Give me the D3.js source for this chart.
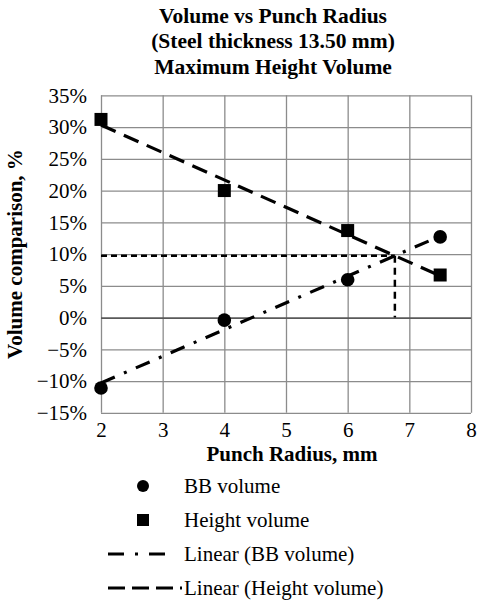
<!DOCTYPE html>
<html>
<head>
<meta charset="utf-8">
<script src="https://cdn.jsdelivr.net/npm/d3@7"></script>
<style>
  body { margin: 0; background: #fff; }
  svg { display: block; font-family: "Liberation Serif", "Times New Roman", serif; }
</style>
</head>
<body>
<svg id="chart" width="478" height="601"></svg>
<script>
// values
const radius = [2, 4, 6, 7.5];
const bbVolume = [-11.1, -0.4, 5.95, 12.7];
const heightVolume = [31.2, 20.0, 13.7, 6.7];
const xTicks = [2, 3, 4, 5, 6, 7, 8];
const yTicks = [-15, -10, -5, 0, 5, 10, 15, 20, 25, 30, 35];
const titleLines = ["Volume vs Punch Radius", "(Steel thickness 13.50 mm)", "Maximum Height Volume"];
const legendLabels = ["BB volume", "Height volume", "Linear (BB volume)", "Linear (Height volume)"];

const svg = d3.select("#chart");
const plotL = 101, plotR = 471, plotT = 95.3, plotB = 412.8;
const fs = 21;

const x = d3.scaleLinear().domain([2, 8]).range([plotL, plotR]);
const y = d3.scaleLinear().domain([-15, 35]).range([plotB, plotT]);

// least squares fit, like excel's linear trendline
function fit(xs, ys) {
  const mx = d3.mean(xs), my = d3.mean(ys);
  let sxy = 0, sxx = 0;
  xs.forEach((v, i) => { sxy += (v - mx) * (ys[i] - my); sxx += (v - mx) * (v - mx); });
  const slope = sxy / sxx;
  return { slope: slope, icpt: my - slope * mx };
}
const bbFit = fit(radius, bbVolume);
const hFit = fit(radius, heightVolume);
const crossX = (hFit.icpt - bbFit.icpt) / (bbFit.slope - hFit.slope);
const crossY = bbFit.icpt + bbFit.slope * crossX;

// title
svg.append("g").selectAll("text").data(titleLines).join("text")
  .attr("x", 273).attr("y", (d, i) => 23 + i * 25.3)
  .attr("text-anchor", "middle")
  .attr("font-size", 21.5).attr("font-weight", "bold")
  .text(d => d);

// grid
const gx = svg.append("g").attr("transform", `translate(0,${plotB})`)
  .call(d3.axisBottom(x).tickValues(xTicks).tickSize(-(plotB - plotT)).tickPadding(9).tickFormat(d3.format("d")));
gx.select(".domain").remove();
gx.selectAll("line").attr("stroke", "#8c8c8c").attr("stroke-width", 1.3);
gx.selectAll("text").attr("font-size", fs).attr("fill", "#000").attr("font-family", "Liberation Serif");

const gy = svg.append("g").attr("transform", `translate(${plotL},0)`)
  .call(d3.axisLeft(y).tickValues(yTicks).tickSize(-(plotR - plotL)).tickPadding(14)
    .tickFormat(d => (d < 0 ? "\u2212" + (-d) : d) + "%"));
gy.select(".domain").remove();
gy.selectAll("line").attr("stroke", d => d === 0 ? "#595959" : "#8c8c8c")
  .attr("stroke-width", d => d === 0 ? 1.8 : 1.3);
gy.selectAll("text").attr("font-size", fs).attr("fill", "#000").attr("font-family", "Liberation Serif");

// axis titles
svg.append("text").attr("x", 292).attr("y", 461)
  .attr("text-anchor", "middle").attr("font-size", fs).attr("font-weight", "bold")
  .text("Punch Radius, mm");
svg.append("text").attr("transform", `translate(22,${(plotT + plotB) / 2}) rotate(-90)`)
  .attr("text-anchor", "middle").attr("font-size", fs).attr("font-weight", "bold")
  .text("Volume comparison, %");

// intersection guides
const line = d3.line().x(d => x(d[0])).y(d => y(d[1]));
svg.append("path").attr("d", line([[2, crossY], [crossX, crossY]]))
  .attr("fill", "none").attr("stroke", "#000").attr("stroke-width", 2.5).attr("stroke-dasharray", "6,4");
svg.append("path").attr("d", line([[crossX, crossY], [crossX, 0]]))
  .attr("fill", "none").attr("stroke", "#000").attr("stroke-width", 2.5).attr("stroke-dasharray", "7,5");

// trendlines
const x0 = d3.min(radius), x1 = d3.max(radius);
svg.append("path")
  .attr("d", line([[x0, bbFit.icpt + bbFit.slope * x0], [x1, bbFit.icpt + bbFit.slope * x1]]))
  .attr("fill", "none").attr("stroke", "#000").attr("stroke-width", 3.2)
  .attr("stroke-dasharray", "15,10,3,10");
svg.append("path")
  .attr("d", line([[x0, hFit.icpt + hFit.slope * x0], [x1, hFit.icpt + hFit.slope * x1]]))
  .attr("fill", "none").attr("stroke", "#000").attr("stroke-width", 3.2)
  .attr("stroke-dasharray", "16,9");

// markers
svg.append("g").selectAll("circle").data(radius).join("circle")
  .attr("cx", d => x(d)).attr("cy", (d, i) => y(bbVolume[i])).attr("r", 6.8).attr("fill", "#000");
svg.append("g").selectAll("rect").data(radius).join("rect")
  .attr("x", d => x(d) - 6.5).attr("y", (d, i) => y(heightVolume[i]) - 6.5)
  .attr("width", 13).attr("height", 13).attr("fill", "#000");

// legend
const lg = svg.append("g");
const rowY = i => 486 + i * 34;
lg.selectAll("text").data(legendLabels).join("text")
  .attr("x", 184).attr("y", (d, i) => rowY(i) + 7)
  .attr("font-size", fs).text(d => d);
lg.append("circle").attr("cx", 143).attr("cy", rowY(0)).attr("r", 6).attr("fill", "#000");
lg.append("rect").attr("x", 137).attr("y", rowY(1) - 6).attr("width", 12).attr("height", 12).attr("fill", "#000");
lg.append("line").attr("x1", 108).attr("x2", 170).attr("y1", rowY(2)).attr("y2", rowY(2))
  .attr("stroke", "#000").attr("stroke-width", 3.2).attr("stroke-dasharray", "16,11,3,11");
lg.append("line").attr("x1", 108).attr("x2", 182).attr("y1", rowY(3)).attr("y2", rowY(3))
  .attr("stroke", "#000").attr("stroke-width", 3.2).attr("stroke-dasharray", "17,7");
</script>
</body>
</html>
